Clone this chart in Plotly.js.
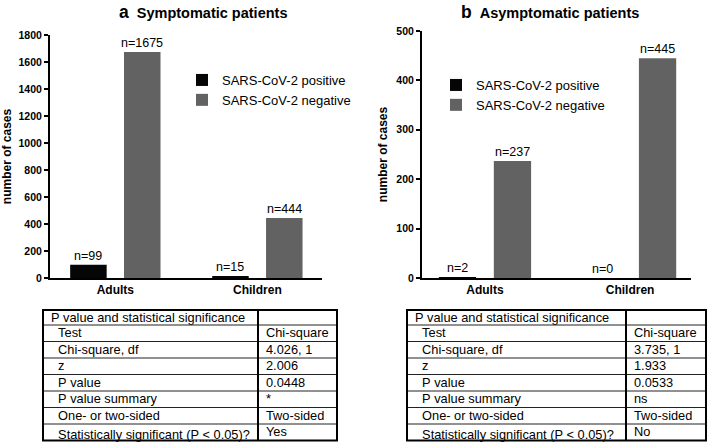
<!DOCTYPE html>
<html>
<head>
<meta charset="utf-8">
<script src="https://cdn.plot.ly/plotly-3.0.1.min.js"></script>
<style>html,body{margin:0;padding:0;background:#fff;}#chart{width:708px;height:445px;}</style>
</head>
<body>
<div id="chart"></div>
<script>
// ---- data ----
const groups = ["Adults", "Children"];
const seriesNames = ["SARS-CoV-2 positive", "SARS-CoV-2 negative"];
const symptomaticPositive = [99, 15];
const symptomaticNegative = [1675, 444];
const asymptomaticPositive = [2, 0];
const asymptomaticNegative = [237, 445];
const panelTitles = ["Symptomatic patients", "Asymptomatic patients"];
const panelLetters = ["a", "b"];
const yTitle = "number of cases";
const tableHeader = "P value and statistical significance";
const tableRows = ["Test", "Chi-square, df", "z", "P value", "P value summary", "One- or two-sided", "Statistically significant (P < 0.05)?"];
const tableSymptomatic = ["Chi-square", "4.026, 1", "2.006", "0.0448", "*", "Two-sided", "Yes"];
const tableAsymptomatic = ["Chi-square", "3.735, 1", "1.933", "0.0533", "ns", "Two-sided", "No"];

// ---- style ----
const W = 708, H = 445;
const FONT = "Arial, 'Liberation Sans', Helvetica, sans-serif";
const colPos = "#060606", colNeg = "#626262";
const barW = 0.257;
const offPos = -0.318, offNeg = 0.061;
const px = v => v / W, py = v => 1 - v / H;
const TBL_TOP = 310, HDR_H = 15, ROW_H = 16.5, TXT_SHIFT = 5.5;
const nb = s => s.replace(/ /g, "\u00a0");

function barTrace(vals, name, color, off, xa, ya, lg) {
  return {type: "bar", x: groups, y: vals, name: name, width: barW, offset: off,
    marker: {color: color, line: {width: 0}}, xaxis: xa, yaxis: ya, legend: lg,
    hoverinfo: "skip"};
}
const traces = [
  barTrace(symptomaticPositive, seriesNames[0], colPos, offPos, "x", "y", "legend"),
  barTrace(symptomaticNegative, seriesNames[1], colNeg, offNeg, "x", "y", "legend"),
  barTrace(asymptomaticPositive, seriesNames[0], colPos, offPos, "x2", "y2", "legend2"),
  barTrace(asymptomaticNegative, seriesNames[1], colNeg, offNeg, "x2", "y2", "legend2")
];

const shapes = [];
function tableTrace(vals, x0, x1, xd, cw) {
  const nRows = tableRows.length;
  const bottom = TBL_TOP + HDR_H + nRows * ROW_H;
  // grid lines
  for (let k = 0; k < nRows; k++) {
    const yy = TBL_TOP + HDR_H + k * ROW_H;
    shapes.push({type: "line", xref: "paper", yref: "paper", x0: px(x0), x1: px(x1), y0: py(yy), y1: py(yy),
      line: {color: "#222", width: 1}});
  }
  shapes.push({type: "rect", xref: "paper", yref: "paper", x0: px(x0), x1: px(x1), y0: py(bottom), y1: py(TBL_TOP),
    line: {color: "#000", width: 2}});
  shapes.push({type: "line", xref: "paper", yref: "paper", x0: px(xd), x1: px(xd), y0: py(bottom), y1: py(TBL_TOP),
    line: {color: "#000", width: 2}});
  return {type: "table", domain: {x: [px(x0), px(x1)], y: [0, py(TBL_TOP - TXT_SHIFT)]},
    columnwidth: cw,
    header: {values: [nb(tableHeader), ""], height: HDR_H, align: "left",
      font: {family: FONT, size: 12.8, color: "#000"}, fill: {color: "rgba(0,0,0,0)"},
      line: {color: "rgba(0,0,0,0)", width: 0}},
    cells: {values: [tableRows.map(r => "\u00a0\u00a0" + nb(r)), vals.map(nb)], height: ROW_H, align: "left",
      font: {family: FONT, size: 12.8, color: "#000"}, fill: {color: "rgba(0,0,0,0)"},
      line: {color: "rgba(0,0,0,0)", width: 0}}
  };
}
traces.push(tableTrace(tableSymptomatic, 43, 337, 258, [215, 79]));
traces.push(tableTrace(tableAsymptomatic, 407, 706, 626, [219, 80]));

// n= labels
const annotations = [];
function nLabels(vals, off, xa, ya) {
  vals.forEach((v, i) => annotations.push({xref: xa, yref: ya, x: i + off + barW / 2, y: v,
    text: "n=" + v, showarrow: false, yanchor: "bottom", yshift: 0,
    font: {family: FONT, size: 12.5, color: "#000"}}));
}
nLabels(symptomaticPositive, offPos, "x", "y");
nLabels(symptomaticNegative, offNeg, "x", "y");
nLabels(asymptomaticPositive, offPos, "x2", "y2");
nLabels(asymptomaticNegative, offNeg, "x2", "y2");
[[202.5, 0], [550, 1]].forEach(([cx, k]) => annotations.push({xref: "paper", yref: "paper",
  x: px(cx), y: py(12), xanchor: "center", yanchor: "middle", showarrow: false,
  text: "<b><span style='font-size:17.5px'>" + panelLetters[k] + "</span>\u00a0\u00a0" + panelTitles[k] + "</b>",
  font: {family: FONT, size: 14.5, color: "#000"}}));

function xax(d0, d1, r, anchor) {
  return {domain: [px(d0), px(d1)], range: r, type: "category", anchor: anchor,
    showline: true, linecolor: "#000", linewidth: 2, ticks: "", showgrid: false, zeroline: false,
    tickfont: {family: FONT, size: 12, color: "#000", weight: "bold"}, fixedrange: true};
}
function yax(top, r, dt, anchor) {
  return {domain: [py(278), py(top)], range: r, dtick: dt, anchor: anchor,
    showline: true, linecolor: "#000", linewidth: 2, ticks: "outside", ticklen: 4, tickwidth: 2,
    tickcolor: "#000", showgrid: false, zeroline: false,
    tickfont: {family: FONT, size: 10.5, color: "#000", weight: "bold"},
    title: {text: yTitle, font: {family: FONT, size: 12, color: "#000", weight: "bold"}, standoff: 6},
    fixedrange: true};
}

const legendStyle = {font: {family: FONT, size: 13, color: "#000"}, bgcolor: "rgba(0,0,0,0)",
  xanchor: "left", yanchor: "top", tracegroupgap: 0};
const layout = {
  width: W, height: H, margin: {l: 0, r: 0, t: 0, b: 0},
  paper_bgcolor: "#fff", plot_bgcolor: "#fff", barmode: "overlay",
  xaxis: xax(50, 322, [-0.46, 1.455], "y"),
  yaxis: yax(35, [0, 1800], 200, "x"),
  xaxis2: xax(422, 691, [-0.434, 1.42], "y2"),
  yaxis2: yax(31, [0, 500], 100, "x2"),
  legend: Object.assign({x: px(182), y: py(65)}, legendStyle),
  legend2: Object.assign({x: px(436), y: py(70)}, legendStyle),
  annotations: annotations, shapes: shapes, showlegend: true
};
Plotly.newPlot("chart", traces, layout, {displayModeBar: false, staticPlot: true});
</script>
</body>
</html>
